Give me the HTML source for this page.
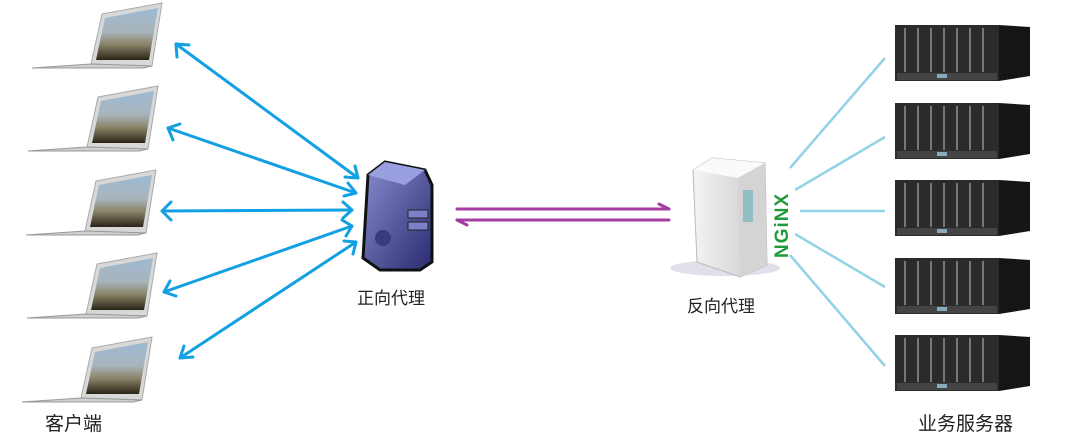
<!DOCTYPE html>
<html><head><meta charset="utf-8"><style>
html,body{margin:0;padding:0;background:#fff;width:1080px;height:433px;overflow:hidden}
text{font-family:"Liberation Sans","Noto Sans CJK SC",sans-serif}
</style></head><body>
<svg width="1080" height="433" viewBox="0 0 1080 433" xmlns="http://www.w3.org/2000/svg">
<defs>
<linearGradient id="scr" x1="0" y1="0" x2="0" y2="1">
<stop offset="0" stop-color="#9dbad2"/><stop offset="0.45" stop-color="#a8b4bc"/><stop offset="0.7" stop-color="#8a8468"/><stop offset="1" stop-color="#2a2418"/></linearGradient>
<linearGradient id="pur" x1="0" y1="0" x2="1" y2="1">
<stop offset="0" stop-color="#8a8fd0"/><stop offset="1" stop-color="#2a2a70"/></linearGradient>
<linearGradient id="wht" x1="0" y1="0" x2="1" y2="0">
<stop offset="0" stop-color="#f4f4f4"/><stop offset="1" stop-color="#c8c8c8"/></linearGradient>
<g id="lap">
<polygon points="102,14 162,3 152,66 91,64" fill="#d8d8d8" stroke="#aaa" stroke-width="1"/>
<polygon points="105,18 158,8 149,60 96,60" fill="url(#scr)"/>
<polygon points="32,68 91,64 152,66 143,68" fill="#cfcfcf" stroke="#999" stroke-width="1"/>
</g>
<g id="srv">
<rect x="895" y="25" width="104" height="56" fill="#2b2b2b"/>
<polygon points="999,25 1030,27 1030,76 999,81" fill="#151515"/>
<g stroke="#777" stroke-width="2">
<line x1="905" y1="28" x2="905" y2="72"/><line x1="918" y1="28" x2="918" y2="72"/><line x1="931" y1="28" x2="931" y2="72"/>
<line x1="944" y1="28" x2="944" y2="72"/><line x1="957" y1="28" x2="957" y2="72"/><line x1="970" y1="28" x2="970" y2="72"/><line x1="983" y1="28" x2="983" y2="72"/>
</g>
<rect x="897" y="73" width="100" height="7" fill="#444"/>
<rect x="937" y="74" width="10" height="4" fill="#8ab"/>
</g>
</defs>

<use href="#lap"/>
<use href="#lap" transform="translate(-4,83)"/>
<use href="#lap" transform="translate(-6,167)"/>
<use href="#lap" transform="translate(-5,250)"/>
<use href="#lap" transform="translate(-10,334)"/>

<g stroke="#12a0e2" stroke-width="3" fill="none" stroke-linecap="round" stroke-linejoin="round">
<line x1="176" y1="44" x2="358" y2="178"/>
<line x1="168" y1="128" x2="356" y2="193"/>
<line x1="162" y1="211" x2="352" y2="210"/>
<line x1="164" y1="292" x2="352" y2="226"/>
<line x1="180" y1="358" x2="356" y2="242"/>
<polyline points="177,57 176,44 189,45"/>
<polyline points="173,140 168,128 180,124"/>
<polyline points="171,220 162,211 171,202"/>
<polyline points="176,296 164,292 170,281"/>
<polyline points="193,357 180,358 184,346"/>
<polyline points="345,177 358,178 355,166"/>
<polyline points="344,196 356,193 348,183"/>
<polyline points="343,202 352,210 343,218"/>
<polyline points="346,236 352,226 342,220"/>
<polyline points="353,254 356,242 344,241"/>
</g>

<polygon points="368,175 385,162 425,170 432,185 432,262 420,270 380,270 363,258" fill="url(#pur)" stroke="#111" stroke-width="3"/>
<polygon points="368,175 385,162 425,170 405,185" fill="#9a9fe0"/>
<rect x="408" y="210" width="20" height="8" fill="#7c80c8" stroke="#222"/>
<rect x="408" y="222" width="20" height="8" fill="#7c80c8" stroke="#222"/>
<circle cx="383" cy="238" r="8" fill="#3a3a80"/>
<text x="357" y="304" font-size="17" fill="#222">正向代理</text>

<g stroke="#a43ca4" stroke-width="3" fill="none" stroke-linecap="round">
<line x1="457" y1="209" x2="669" y2="209"/>
<polyline points="659,204 669,209"/>
<line x1="457" y1="220" x2="669" y2="220"/>
<polyline points="467,225 457,220"/>
</g>

<ellipse cx="725" cy="268" rx="55" ry="8" fill="#e0e0ea"/>
<polygon points="693,170 712,158 765,163 767,265 740,277 697,262" fill="url(#wht)" stroke="#bbb"/>
<polygon points="693,170 712,158 765,163 738,178" fill="#fafafa"/>
<polygon points="738,178 765,163 767,265 740,277" fill="#d4d4d4"/>
<rect x="743" y="190" width="10" height="32" fill="#8fbfc2"/>
<text transform="translate(788,258) rotate(-90)" font-size="19" font-weight="bold" fill="#1f9a3a" letter-spacing="1">NGiNX</text>
<text x="687" y="312" font-size="17" fill="#222">反向代理</text>

<g stroke="#92d3e6" stroke-width="2.5">
<line x1="790" y1="168" x2="885" y2="58"/>
<line x1="795" y1="190" x2="885" y2="137"/>
<line x1="800" y1="211" x2="885" y2="211"/>
<line x1="795" y1="234" x2="885" y2="287"/>
<line x1="790" y1="255" x2="885" y2="366"/>
</g>

<use href="#srv"/>
<use href="#srv" transform="translate(0,78)"/>
<use href="#srv" transform="translate(0,155)"/>
<use href="#srv" transform="translate(0,233)"/>
<use href="#srv" transform="translate(0,310)"/>

<text x="45" y="430" font-size="19" fill="#222">客户端</text>
<text x="918" y="430" font-size="19" fill="#222">业务服务器</text>
</svg>
</body></html>
